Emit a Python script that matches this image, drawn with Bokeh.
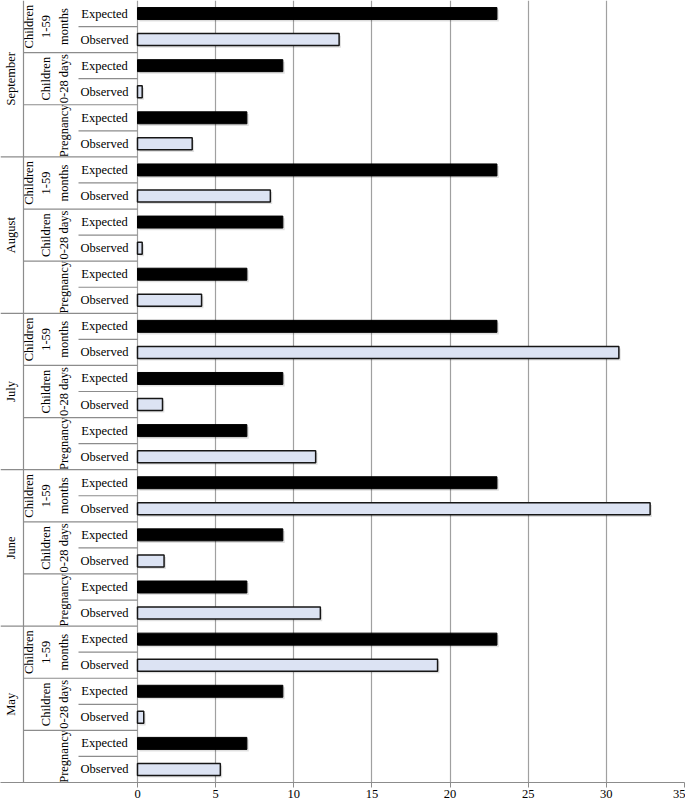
import math
from bokeh.plotting import figure
from bokeh.models import Range1d, FixedTicker, ColumnDataSource
from bokeh.embed import file_html
from bokeh.resources import INLINE
from bokeh.core.properties import value

# ---------------- data (bottom to top order) ----------------
months = ["May", "June", "July", "August", "September"]
groups = ["Pregnancy", "Children 0-28 days", "Children 1-59 months"]
group_labels = ["Pregnancy", "Children\n0-28 days", "Children\n1-59\nmonths"]
measures = ["Observed", "Expected"]

expected = [7.0, 9.3, 23.0]                        # per group, same every month
observed_pregnancy = [5.3, 11.7, 11.4, 4.1, 3.5]   # May..September
observed_0_28_days = [0.4, 1.7, 1.6, 0.3, 0.3]
observed_1_59_months = [19.2, 32.8, 30.8, 8.5, 12.9]
x_ticks = [0, 5, 10, 15, 20, 25, 30, 35]

observed_by_group = [observed_pregnancy, observed_0_28_days, observed_1_59_months]

# ---------------- layout constants ----------------
W, H = 685, 800
AXIS_PX = 137            # px from frame left edge to x=0
X_MAX = 35
PX_PER_UNIT = (W - 1 - AXIS_PX) / X_MAX
X_START = -AXIS_PX / PX_PER_UNIT


def px(p):
    """horizontal pixel position in the label area -> data x"""
    return (p - AXIS_PX) / PX_PER_UNIT


FONT = "Liberation Serif"
LINE = "#8c8c8c"

rows_y, rows_v, rows_m = [], [], []
for mi, m in enumerate(months):
    for gi, g in enumerate(groups):
        for k, meas in enumerate(measures):
            r = mi * 6 + gi * 2 + k
            rows_y.append(r + 0.5)
            rows_m.append(meas)
            if meas == "Expected":
                rows_v.append(expected[gi])
            else:
                rows_v.append(observed_by_group[gi][mi])

exp_y = [y for y, m in zip(rows_y, rows_m) if m == "Expected"]
exp_v = [v for v, m in zip(rows_v, rows_m) if m == "Expected"]
obs_y = [y for y, m in zip(rows_y, rows_m) if m == "Observed"]
obs_v = [v for v, m in zip(rows_v, rows_m) if m == "Observed"]

exp_src = ColumnDataSource(dict(y=exp_y, v=exp_v))
obs_src = ColumnDataSource(dict(y=obs_y, v=obs_v))
SH_X, SH_Y = 0.12, 0.08
shadow_src = ColumnDataSource(dict(y=[y - SH_Y for y in rows_y],
                                   l=[SH_X] * len(rows_v),
                                   r=[v + SH_X for v in rows_v]))

p = figure(width=W, height=H, output_backend="svg", toolbar_location=None,
           x_range=Range1d(X_START, X_MAX), y_range=Range1d(0, 30),
           min_border_left=0, min_border_right=1, min_border_top=0,
           min_border_bottom=0)
p.outline_line_color = None
p.background_fill_color = "white"
p.border_fill_color = "white"

p.yaxis.visible = False
p.ygrid.visible = False
p.xgrid.ticker = FixedTicker(ticks=x_ticks)
p.xgrid.grid_line_color = "#a0a0a0"
p.xgrid.grid_line_width = 1.2

ax = p.xaxis[0]
ax.ticker = FixedTicker(ticks=x_ticks)
ax.axis_line_color = LINE
ax.axis_line_width = 1.2
ax.major_tick_line_color = LINE
ax.major_tick_in = 0
ax.major_tick_out = 5
ax.minor_tick_line_color = None
ax.major_label_standoff = 2
ax.major_label_text_font = FONT
ax.major_label_text_font_size = "12.5px"
ax.major_label_text_color = "black"

H_BAR = 0.46
p.hbar(y="y", left="l", right="r", height=H_BAR, source=shadow_src,
       fill_color="black", fill_alpha=0.12, line_color=None)
p.hbar(y="y", left=0, right="v", height=H_BAR, source=exp_src,
       fill_color="black", line_color="black", line_width=1)
p.hbar(y="y", left=0, right="v", height=H_BAR, source=obs_src,
       fill_color="#dce3f3", line_color="#161616", line_width=1.5)

# ---------------- category labels ----------------
p.text(x=[px(104)] * len(rows_y), y=rows_y, text=rows_m,
       text_font=value(FONT), text_font_size="12.5px", text_color="black",
       text_align="center", text_baseline="middle")

gy, gt = [], []
for mi in range(len(months)):
    for gi in range(len(groups)):
        gy.append(mi * 6 + gi * 2 + 1)
        gt.append(group_labels[gi])
p.text(x=[px(70)] * len(gy), y=gy, text=gt, angle=math.pi / 2,
       text_font=value(FONT), text_font_size="12.5px", text_color="black",
       text_align="center", text_baseline="bottom", text_line_height=1.25)

p.text(x=[px(10)] * len(months), y=[mi * 6 + 3 for mi in range(len(months))],
       text=months, angle=math.pi / 2,
       text_font=value(FONT), text_font_size="12.5px", text_color="black",
       text_align="center", text_baseline="middle")

# ---------------- separators ----------------
sx0, sy0, sx1, sy1 = [], [], [], []
for mi in range(len(months)):
    base = mi * 6
    for gi in range(len(groups)):
        y = base + gi * 2 + 1
        sx0.append(px(78)); sx1.append(0); sy0.append(y); sy1.append(y)
    for gi in (1, 2):
        y = base + gi * 2
        sx0.append(px(23)); sx1.append(0); sy0.append(y); sy1.append(y)
    if mi > 0:
        sx0.append(X_START); sx1.append(0); sy0.append(base); sy1.append(base)
    # vertical level separator between month and group columns
    sx0.append(px(23)); sx1.append(px(23)); sy0.append(base); sy1.append(base + 6)
p.segment(x0=sx0, y0=sy0, x1=sx1, y1=sy1, line_color=LINE, line_width=1.2)

open("out.html", "w").write(file_html(p, INLINE))
